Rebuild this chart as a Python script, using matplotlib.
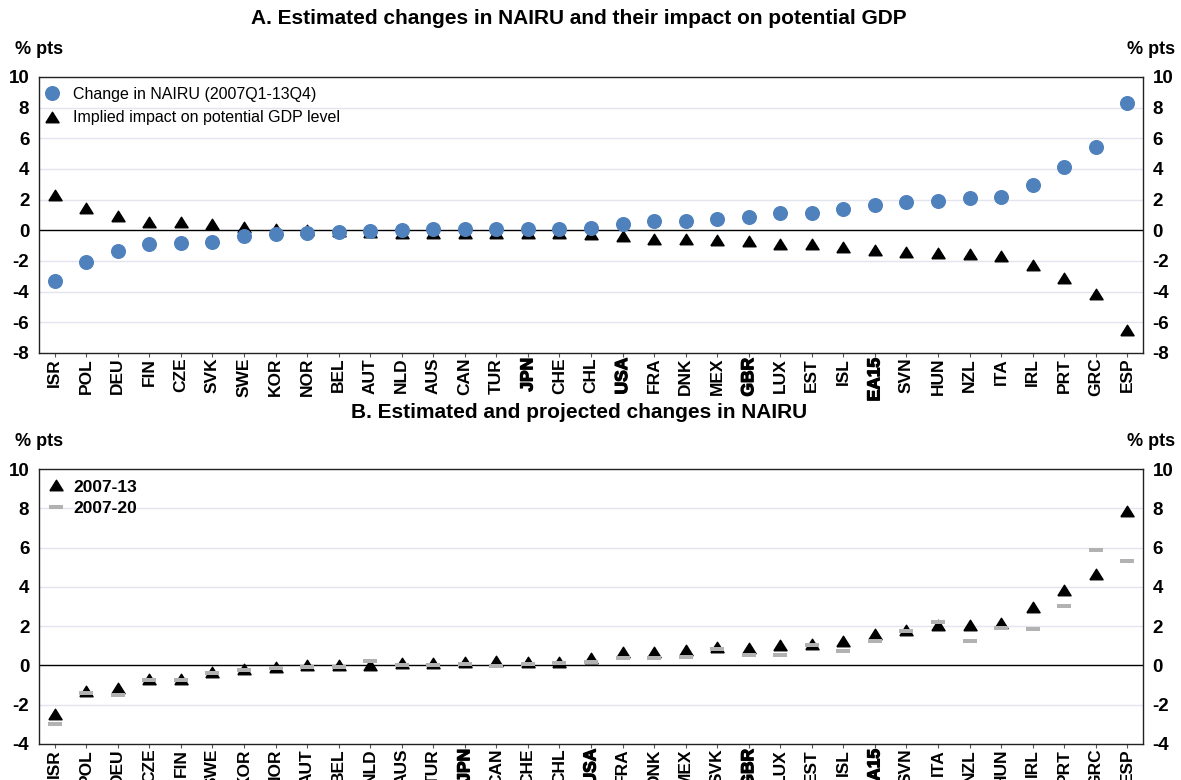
import matplotlib
matplotlib.use("Agg")
import matplotlib.pyplot as plt
from matplotlib.lines import Line2D
import matplotlib.patheffects as pe
import numpy as np

plt.rcParams['font.family'] = ['Liberation Sans', 'DejaVu Sans']

# ---------------- Data ----------------
cats_a = ['ISR', 'POL', 'DEU', 'FIN', 'CZE', 'SVK', 'SWE', 'KOR', 'NOR', 'BEL', 'AUT', 'NLD',
          'AUS', 'CAN', 'TUR', 'JPN', 'CHE', 'CHL', 'USA', 'FRA', 'DNK', 'MEX', 'GBR', 'LUX',
          'EST', 'ISL', 'EA15', 'SVN', 'HUN', 'NZL', 'ITA', 'IRL', 'PRT', 'GRC', 'ESP']
nairu_change = [-3.31, -2.09, -1.35, -0.87, -0.83, -0.74, -0.37, -0.26, -0.15, -0.08, -0.07, 0.00,
                0.07, 0.07, 0.09, 0.10, 0.11, 0.17, 0.39, 0.61, 0.63, 0.76, 0.85, 1.11,
                1.13, 1.42, 1.63, 1.85, 1.90, 2.11, 2.20, 2.98, 4.14, 5.45, 8.28]
gdp_impact = [2.33, 1.46, 0.91, 0.54, 0.52, 0.41, 0.22, 0.11, 0.04, -0.04, -0.12, -0.15,
              -0.15, -0.17, -0.17, -0.17, -0.17, -0.22, -0.39, -0.54, -0.57, -0.65, -0.72, -0.90,
              -0.92, -1.09, -1.26, -1.42, -1.48, -1.57, -1.68, -2.29, -3.12, -4.18, -6.49]

cats_b = ['ISR', 'POL', 'DEU', 'CZE', 'FIN', 'SWE', 'KOR', 'NOR', 'AUT', 'BEL', 'NLD', 'AUS',
          'TUR', 'JPN', 'CAN', 'CHE', 'CHL', 'USA', 'FRA', 'DNK', 'MEX', 'SVK', 'GBR', 'LUX',
          'EST', 'ISL', 'EA15', 'SVN', 'ITA', 'NZL', 'HUN', 'IRL', 'PRT', 'GRC', 'ESP']
nairu_2007_13 = [-2.45, -1.31, -1.14, -0.71, -0.71, -0.31, -0.19, -0.07, 0.02, 0.02, 0.03, 0.10,
                 0.10, 0.19, 0.22, 0.19, 0.19, 0.39, 0.70, 0.70, 0.78, 0.93, 0.90, 1.02,
                 1.11, 1.24, 1.61, 1.78, 2.04, 2.08, 2.17, 2.97, 3.86, 4.64, 7.87]
nairu_2007_20 = [-2.97, -1.39, -1.50, -0.76, -0.75, -0.37, -0.24, -0.14, -0.08, -0.08, 0.25, 0.02,
                 0.02, 0.05, -0.03, 0.05, 0.14, 0.17, 0.36, 0.36, 0.44, 0.85, 0.54, 0.54,
                 1.04, 0.75, 1.24, 1.75, 2.23, 1.22, 1.92, 1.83, 3.04, 5.86, 5.33]

emphasised = ['JPN', 'USA', 'GBR', 'EA15']

title_a = 'A. Estimated changes in NAIRU and their impact on potential GDP'
title_b = 'B. Estimated and projected changes in NAIRU'
label_circle = 'Change in NAIRU (2007Q1-13Q4)'
label_tri = 'Implied impact on potential GDP level'
label_b13 = '2007-13'
label_b20 = '2007-20'

# ---------------- Style ----------------
BLUE = '#4F81BD'
GREY = '#B2B2B2'
GRID = '#E4E4EE'
TRI = [(-1.0, -0.8), (1.0, -0.8), (0.0, 0.8), (-1.0, -0.8)]
DASH = [(-1.0, -0.34), (1.0, -0.34), (1.0, 0.34), (-1.0, 0.34), (-1.0, -0.34)]

W, H = 1181, 780
fig = plt.figure(figsize=(W / 100, H / 100), dpi=100)

axA = fig.add_axes([39 / W, 1 - 353 / H, 1104 / W, 276 / H])
axB = fig.add_axes([39 / W, 1 - 744 / H, 1104 / W, 275 / H])


def style_axis(ax, cats, ylim, yticks):
    x = np.arange(len(cats))
    ax.set_xlim(-0.5, len(cats) - 0.5)
    ax.set_ylim(*ylim)
    ax.set_yticks(yticks)
    ax.set_yticklabels([str(t) for t in yticks])
    for t in yticks:
        if t != 0 and t not in ylim:
            ax.axhline(t, color=GRID, lw=1.0, zorder=0)
    ax.axhline(0, color='black', lw=1.0, zorder=1)
    ax.set_xticks(x)
    ax.set_xticklabels(cats, rotation=90, fontsize=12.5, fontweight='bold', va='top', ha='center')
    for lab in ax.get_xticklabels():
        if lab.get_text() in emphasised:
            lab.set_path_effects([pe.withStroke(linewidth=0.9, foreground='black')])
    ax.tick_params(axis='x', length=3, width=0.8, color='#555555', pad=0.5)
    ax.tick_params(axis='y', length=0, labelsize=13.5, labelleft=True, labelright=True,
                   pad=7)
    for lab in ax.get_yticklabels():
        lab.set_fontweight('bold')
    for s in ax.spines.values():
        s.set_color('#222222')
        s.set_linewidth(1.0)
    return x


# ---------------- Panel A ----------------
xa = style_axis(axA, cats_a, (-8, 10), list(range(-8, 11, 2)))
axA.plot(xa, gdp_impact, linestyle='none', marker=TRI, markersize=9.5, color='black', zorder=3)
axA.plot(xa, nairu_change, linestyle='none', marker='o', markersize=9.8, color=BLUE,
         markeredgecolor=BLUE, zorder=4)
hA = [Line2D([], [], linestyle='none', marker='o', markersize=9.8, color=BLUE),
      Line2D([], [], linestyle='none', marker=TRI, markersize=9.5, color='black')]
legA = axA.legend(hA, [label_circle, label_tri], loc='upper left', bbox_to_anchor=(-0.004, 1.0),
                  frameon=False, fontsize=11.5, handlelength=1.0, handletextpad=0.8,
                  labelspacing=0.55, borderaxespad=0.3, borderpad=0.3)

# ---------------- Panel B ----------------
xb = style_axis(axB, cats_b, (-4, 10), list(range(-4, 11, 2)))
axB.plot(xb, nairu_2007_13, linestyle='none', marker=TRI, markersize=9.5, color='black', zorder=3)
axB.plot(xb, nairu_2007_20, linestyle='none', marker=DASH, markersize=10.5, color=GREY,
         markeredgewidth=0, zorder=4)
hB = [Line2D([], [], linestyle='none', marker=TRI, markersize=9.5, color='black'),
      Line2D([], [], linestyle='none', marker=DASH, markersize=10.5, color=GREY, markeredgewidth=0)]
legB = axB.legend(hB, [label_b13, label_b20], loc='upper left', bbox_to_anchor=(-0.002, 1.0),
                  frameon=False, handlelength=1.0, handletextpad=0.5,
                  labelspacing=0.35, borderaxespad=0.3, borderpad=0.3,
                  prop={'size': 12.5, 'weight': 'bold'})

# ---------------- Titles and unit labels ----------------
fig.text(0.49, 1 - 18 / H, title_a, ha='center', va='center', fontsize=15, fontweight='bold')
fig.text(0.49, 1 - 413 / H, title_b, ha='center', va='center', fontsize=15, fontweight='bold')
for ytop in (50, 442):
    fig.text(15 / W, 1 - ytop / H, '% pts', ha='left', va='center', fontsize=13, fontweight='bold')
    fig.text(1175 / W, 1 - ytop / H, '% pts', ha='right', va='center', fontsize=13, fontweight='bold')

fig.savefig('out.png', dpi=100)
